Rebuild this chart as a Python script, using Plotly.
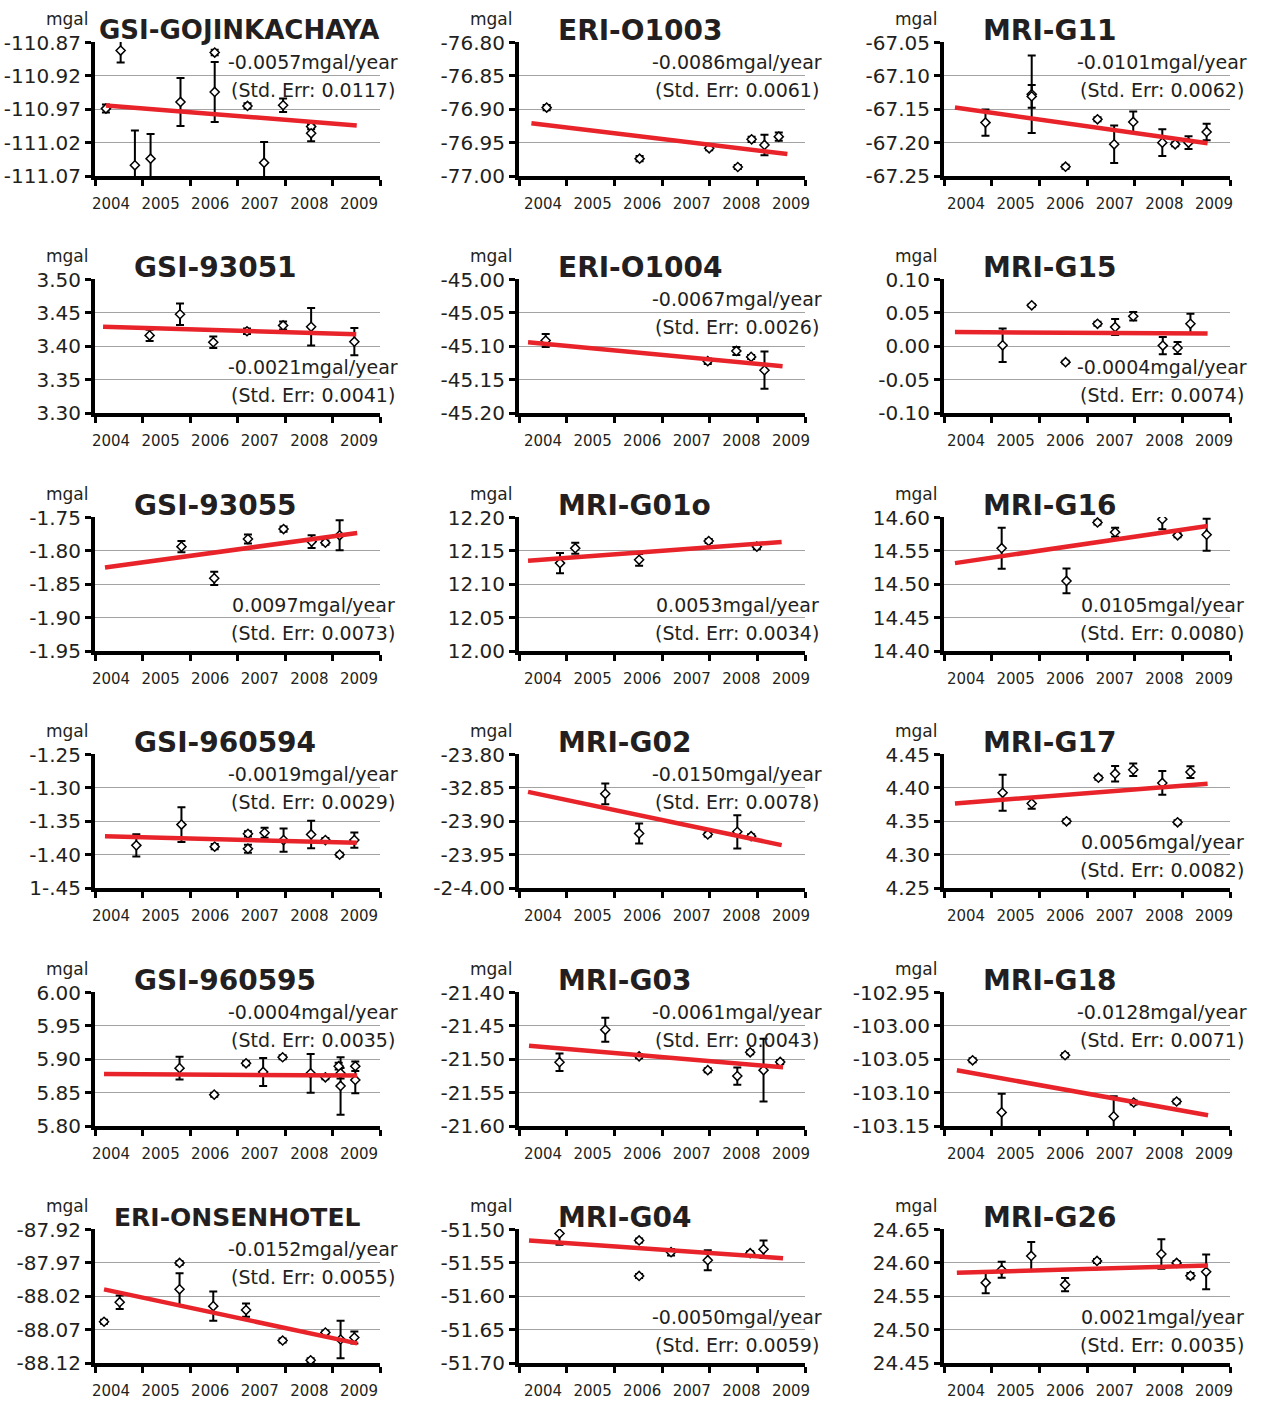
import plotly.graph_objects as go

W, H = 1261, 1401

# ---------------------------------------------------------------- stations
STATIONS = ["GSI-GOJINKACHAYA", "ERI-O1003", "MRI-G11",
            "GSI-93051", "ERI-O1004", "MRI-G15",
            "GSI-93055", "MRI-G01o", "MRI-G16",
            "GSI-960594", "MRI-G02", "MRI-G17",
            "GSI-960595", "MRI-G03", "MRI-G18",
            "ERI-ONSENHOTEL", "MRI-G04", "MRI-G26"]

# fitted gravity trend (mgal/year) and its standard error
SLOPES = [-0.0057, -0.0086, -0.0101, -0.0021, -0.0067, -0.0004,
          0.0097, 0.0053, 0.0105, -0.0019, -0.0150, 0.0056,
          -0.0004, -0.0061, -0.0128, -0.0152, -0.0050, 0.0021]
STD_ERRS = [0.0117, 0.0061, 0.0062, 0.0041, 0.0026, 0.0074,
            0.0073, 0.0034, 0.0080, 0.0029, 0.0078, 0.0082,
            0.0035, 0.0043, 0.0071, 0.0055, 0.0059, 0.0035]

# where the slope text sits: above ("top") or below ("bottom") the data
TEXT_POS = ["top", "top", "top", "bottom", "top", "bottom",
            "bottom", "bottom", "bottom", "top", "top", "bottom",
            "top", "top", "top", "top", "bottom", "bottom"]

# y-axis tick values and labels (labels kept exactly as printed)
YTICK_VALUES = [
    [-110.87, -110.92, -110.97, -111.02, -111.07],
    [-76.80, -76.85, -76.90, -76.95, -77.00],
    [-67.05, -67.10, -67.15, -67.20, -67.25],
    [3.50, 3.45, 3.40, 3.35, 3.30],
    [-45.00, -45.05, -45.10, -45.15, -45.20],
    [0.10, 0.05, 0.00, -0.05, -0.10],
    [-1.75, -1.80, -1.85, -1.90, -1.95],
    [12.20, 12.15, 12.10, 12.05, 12.00],
    [14.60, 14.55, 14.50, 14.45, 14.40],
    [-1.25, -1.30, -1.35, -1.40, -1.45],
    [-23.80, -23.85, -23.90, -23.95, -24.00],
    [4.45, 4.40, 4.35, 4.30, 4.25],
    [6.00, 5.95, 5.90, 5.85, 5.80],
    [-21.40, -21.45, -21.50, -21.55, -21.60],
    [-102.95, -103.00, -103.05, -103.10, -103.15],
    [-87.92, -87.97, -88.02, -88.07, -88.12],
    [-51.50, -51.55, -51.60, -51.65, -51.70],
    [24.65, 24.60, 24.55, 24.50, 24.45],
]
YTICK_LABELS = [
    ["-110.87", "-110.92", "-110.97", "-111.02", "-111.07"],
    ["-76.80", "-76.85", "-76.90", "-76.95", "-77.00"],
    ["-67.05", "-67.10", "-67.15", "-67.20", "-67.25"],
    ["3.50", "3.45", "3.40", "3.35", "3.30"],
    ["-45.00", "-45.05", "-45.10", "-45.15", "-45.20"],
    ["0.10", "0.05", "0.00", "-0.05", "-0.10"],
    ["-1.75", "-1.80", "-1.85", "-1.90", "-1.95"],
    ["12.20", "12.15", "12.10", "12.05", "12.00"],
    ["14.60", "14.55", "14.50", "14.45", "14.40"],
    ["-1.25", "-1.30", "-1.35", "-1.40", "1-.45"],
    ["-23.80", "-32.85", "-23.90", "-23.95", "-2-4.00"],
    ["4.45", "4.40", "4.35", "4.30", "4.25"],
    ["6.00", "5.95", "5.90", "5.85", "5.80"],
    ["-21.40", "-21.45", "-21.50", "-21.55", "-21.60"],
    ["-102.95", "-103.00", "-103.05", "-103.10", "-103.15"],
    ["-87.92", "-87.97", "-88.02", "-88.07", "-88.12"],
    ["-51.50", "-51.55", "-51.60", "-51.65", "-51.70"],
    ["24.65", "24.60", "24.55", "24.50", "24.45"],
]

YEARS = [2004, 2005, 2006, 2007, 2008, 2009]
YEAR_LABELS = ["2004", "2005", "2006", "2007", "2008", "2009"]

# ---------------------------------------------------------------- observations
# t_* : epoch (decimal year), g_* : gravity value (mgal), e_* : 1-sigma error (mgal)
t_gojinkachaya = [2004.23, 2004.54, 2004.84, 2005.17, 2005.80, 2006.52, 2006.52, 2007.21, 2007.56, 2007.96, 2008.55, 2008.55]
g_gojinkachaya = [-110.969, -110.882, -111.054, -111.044, -110.959, -110.885, -110.944, -110.965, -111.050, -110.964, -110.996, -111.006]
e_gojinkachaya = [0.006, 0.018, 0.052, 0.037, 0.036, 0.004, 0.045, 0.004, 0.031, 0.010, 0.004, 0.012]

t_o1003 = [2004.58, 2006.53, 2007.99, 2008.59, 2008.88, 2009.15, 2009.45]
g_o1003 = [-76.8975, -76.974, -76.9585, -76.9865, -76.945, -76.9535, -76.941]
e_o1003 = [0.004, 0.004, 0.003, 0.003, 0.004, 0.0155, 0.006]

t_g11 = [2004.87, 2005.84, 2005.84, 2006.55, 2007.22, 2007.57, 2007.97, 2008.58, 2008.85, 2009.13, 2009.51]
g_g11 = [-67.170, -67.1275, -67.1307, -67.236, -67.165, -67.2025, -67.169, -67.200, -67.2025, -67.200, -67.184]
e_g11 = [0.0196, 0.058, 0.017, 0.003, 0.003, 0.028, 0.0155, 0.020, 0.003, 0.0095, 0.0124]

t_93051 = [2005.15, 2005.79, 2006.49, 2007.20, 2007.96, 2008.55, 2009.46]
g_93051 = [3.4163, 3.448, 3.406, 3.4225, 3.4312, 3.4292, 3.4069]
e_93051 = [0.0085, 0.016, 0.0085, 0.004, 0.006, 0.028, 0.0205]

t_o1004 = [2004.56, 2007.96, 2008.56, 2008.87, 2009.15]
g_o1004 = [-45.0915, -45.1224, -45.107, -45.1159, -45.1358]
e_o1004 = [0.0097, 0.004, 0.006, 0.003, 0.028]

t_g15 = [2005.23, 2005.84, 2006.55, 2007.22, 2007.59, 2007.97, 2008.59, 2008.90, 2009.17]
g_g15 = [0.0015, 0.0614, -0.0238, 0.0337, 0.0287, 0.045, 0.001, -0.0025, 0.0337]
e_g15 = [0.025, 0.002, 0.002, 0.003, 0.012, 0.0064, 0.013, 0.009, 0.015]

t_93055 = [2005.82, 2006.51, 2007.22, 2007.97, 2008.56, 2008.85, 2009.15]
g_93055 = [-1.7936, -1.8411, -1.7822, -1.7673, -1.7861, -1.7876, -1.7767]
e_93055 = [0.0084, 0.0099, 0.0067, 0.004, 0.0097, 0.003, 0.0225]

t_g01o = [2004.86, 2005.18, 2006.52, 2007.98, 2008.99]
g_g01o = [12.1317, 12.154, 12.1366, 12.1648, 12.1564]
e_g01o = [0.0153, 0.0084, 0.0087, 0.003, 0.004]

t_g16 = [2005.21, 2006.57, 2007.22, 2007.59, 2008.58, 2008.90, 2009.51]
g_g16 = [14.554, 14.505, 14.5926, 14.578, 14.5975, 14.5733, 14.5743]
e_g16 = [0.0307, 0.0186, 0.003, 0.0067, 0.015, 0.003, 0.024]

t_960594 = [2004.87, 2005.82, 2006.52, 2007.22, 2007.22, 2007.57, 2007.97, 2008.55, 2008.85, 2009.15, 2009.46]
g_960594 = [-1.3861, -1.355, -1.388, -1.3688, -1.3911, -1.3673, -1.3782, -1.3698, -1.3782, -1.400, -1.3782]
e_960594 = [0.0166, 0.026, 0.004, 0.004, 0.006, 0.0074, 0.0173, 0.0205, 0.003, 0.003, 0.0114]

t_g02 = [2005.81, 2006.52, 2007.96, 2008.58, 2008.87]
g_g02 = [-23.8589, -23.9183, -23.9198, -23.9158, -23.9223]
e_g02 = [0.0156, 0.0149, 0.003, 0.025, 0.003]

t_g17 = [2005.23, 2005.84, 2006.57, 2007.24, 2007.59, 2007.97, 2008.58, 2008.90, 2009.17]
g_g17 = [4.3926, 4.3767, 4.350, 4.4153, 4.4213, 4.4272, 4.4074, 4.3485, 4.4237]
e_g17 = [0.027, 0.008, 0.003, 0.003, 0.0116, 0.0094, 0.0178, 0.003, 0.0087]

t_960595 = [2005.78, 2006.51, 2007.18, 2007.54, 2007.95, 2008.54, 2008.85, 2009.13, 2009.17, 2009.17, 2009.48, 2009.48]
g_960595 = [5.8867, 5.847, 5.894, 5.881, 5.903, 5.879, 5.873, 5.8896, 5.879, 5.860, 5.8896, 5.869]
e_960595 = [0.017, 0.003, 0.003, 0.021, 0.003, 0.029, 0.003, 0.005, 0.008, 0.043, 0.007, 0.020]

t_g03 = [2004.85, 2005.81, 2006.52, 2007.96, 2008.58, 2008.85, 2009.13, 2009.48]
g_g03 = [-21.5044, -21.4559, -21.4956, -21.5163, -21.5252, -21.4896, -21.5163, -21.504]
e_g03 = [0.013, 0.018, 0.003, 0.003, 0.013, 0.003, 0.047, 0.003]

t_g18 = [2004.60, 2005.21, 2006.54, 2007.56, 2007.98, 2008.88]
g_g18 = [-103.0515, -103.1296, -103.044, -103.1356, -103.1148, -103.1133]
e_g18 = [0.003, 0.028, 0.003, 0.030, 0.003, 0.003]

t_onsenhotel = [2004.19, 2004.52, 2005.78, 2005.78, 2006.49, 2007.18, 2007.95, 2008.54, 2008.85, 2009.17, 2009.46]
g_onsenhotel = [-88.0582, -88.0289, -87.970, -88.0096, -88.0348, -88.0407, -88.0863, -88.1159, -88.0744, -88.0848, -88.0818]
e_onsenhotel = [0.003, 0.010, 0.003, 0.024, 0.022, 0.010, 0.003, 0.003, 0.003, 0.028, 0.009]

t_g04 = [2004.85, 2006.52, 2006.52, 2007.19, 2007.96, 2008.85, 2009.13]
g_g04 = [-51.5059, -51.5163, -51.5696, -51.534, -51.5459, -51.5355, -51.5296]
e_g04 = [0.017, 0.003, 0.003, 0.005, 0.015, 0.003, 0.013]

t_g26 = [2004.875, 2005.21, 2005.83, 2006.54, 2007.21, 2008.56, 2008.88, 2009.17, 2009.50]
g_g26 = [24.5704, 24.5896, 24.6104, 24.5674, 24.603, 24.6133, 24.600, 24.5807, 24.5867]
e_g26 = [0.016, 0.012, 0.021, 0.010, 0.003, 0.022, 0.003, 0.004, 0.026]

TIMES = [t_gojinkachaya, t_o1003, t_g11, t_93051, t_o1004, t_g15, t_93055, t_g01o, t_g16,
         t_960594, t_g02, t_g17, t_960595, t_g03, t_g18, t_onsenhotel, t_g04, t_g26]
GRAVITY = [g_gojinkachaya, g_o1003, g_g11, g_93051, g_o1004, g_g15, g_93055, g_g01o, g_g16,
           g_960594, g_g02, g_g17, g_960595, g_g03, g_g18, g_onsenhotel, g_g04, g_g26]
ERRORS = [e_gojinkachaya, e_o1003, e_g11, e_93051, e_o1004, e_g15, e_93055, e_g01o, e_g16,
          e_960594, e_g02, e_g17, e_960595, e_g03, e_g18, e_onsenhotel, e_g04, e_g26]

# regression line: time span and fitted value at its start
TREND_T0 = [2004.23, 2004.26, 2004.23, 2004.17, 2004.19, 2004.23, 2004.21, 2004.19, 2004.23,
            2004.21, 2004.19, 2004.23, 2004.19, 2004.21, 2004.27, 2004.19, 2004.21, 2004.27]
TREND_T1 = [2009.51, 2009.63, 2009.53, 2009.50, 2009.53, 2009.53, 2009.52, 2009.51, 2009.53,
            2009.51, 2009.51, 2009.53, 2009.52, 2009.54, 2009.54, 2009.52, 2009.54, 2009.54]
TREND_G0 = [-110.9643, -76.921, -67.1475, 3.4292, -45.094, 0.0213, -1.8248, 12.1351, 14.5317,
            -1.3723, -23.8559, 4.3767, 5.8778, -21.4796, -103.0665, -88.0096, -51.5163, 24.5852]

# ---------------------------------------------------------------- layout geometry (px)
COL_LEFT = [93, 517, 942]
COL_RIGHT = [380, 805, 1230]
ROW_TOP = [42, 279, 517, 754, 992, 1229]
PLOT_H = 134
# year labels: offset of the first label from the value axis and label pitch
LABEL_OFFSET = [16, 24, 22]
LABEL_PITCH = 49.6

TEXT_COLOR = "#231f20"
FONT = "DejaVu Sans"


def fx(px):
    return px / W


def fy(px):
    return 1 - px / H


fig = go.Figure()
annotations = []
layout = {}

for i, name in enumerate(STATIONS):
    r, c = divmod(i, 3)
    k = "" if i == 0 else str(i + 1)
    xa, ya = "x" + k, "y" + k
    left, right = COL_LEFT[c], COL_RIGHT[c]
    top = ROW_TOP[r]
    bottom = top + PLOT_H

    # observations with error bars
    fig.add_trace(go.Scatter(
        x=TIMES[i], y=GRAVITY[i], xaxis=xa, yaxis=ya, mode="markers",
        marker=dict(symbol="diamond", size=7, color="white",
                    line=dict(color="black", width=1.5)),
        error_y=dict(type="data", array=ERRORS[i], visible=True,
                     color="black", thickness=2, width=4),
        showlegend=False, hoverinfo="x+y",
    ))

    # linear trend drawn from the stated slope
    t0, t1 = TREND_T0[i], TREND_T1[i]
    g0 = TREND_G0[i]
    g1 = g0 + SLOPES[i] * (t1 - t0)
    fig.add_trace(go.Scatter(
        x=[t0, t1], y=[g0, g1], xaxis=xa, yaxis=ya, mode="lines",
        line=dict(color="#e8232a", width=4.5), showlegend=False, hoverinfo="skip",
    ))

    # year label positions along the time axis
    px_per_year = (right - left - 2) / 6.0
    label_vals = [2004 + (LABEL_OFFSET[c] + n * LABEL_PITCH) / px_per_year
                  for n in range(len(YEARS))]

    yv = YTICK_VALUES[i]
    span = max(yv) - min(yv)
    layout["xaxis" + k] = dict(
        domain=[fx(left + 2), fx(right)], anchor=ya,
        range=[2004, 2010],
        tickmode="array", tickvals=label_vals, ticktext=YEAR_LABELS,
        ticks="outside", ticklen=11, tickcolor="rgba(0,0,0,0)",
        tickfont=dict(family=FONT, size=15, color=TEXT_COLOR),
        minor=dict(tickmode="array", tickvals=YEARS + [2010], ticks="outside",
                   ticklen=6, tickwidth=3, tickcolor="black", showgrid=False),
        showgrid=False, zeroline=False,
        showline=True, linewidth=4, linecolor="black",
        fixedrange=True,
    )
    layout["yaxis" + k] = dict(
        domain=[fy(bottom), fy(top)], anchor=xa,
        range=[min(yv), max(yv) + span * 0.004],
        tickmode="array", tickvals=yv, ticktext=YTICK_LABELS[i],
        ticks="outside", ticklen=6, tickwidth=3, tickcolor="black",
        tickfont=dict(family=FONT, size=20, color=TEXT_COLOR),
        showgrid=True, gridcolor="#a3a3a3", gridwidth=1.3,
        zeroline=False, showline=True, linewidth=4, linecolor="black",
        fixedrange=True,
    )

    # unit label above the value axis
    annotations.append(dict(
        x=fx(left - 26), y=fy(top - 23), xref="paper", yref="paper",
        text="mgal", showarrow=False, xanchor="center", yanchor="middle",
        font=dict(family=FONT, size=17, color=TEXT_COLOR),
    ))

    # station name
    if name == "GSI-GOJINKACHAYA":
        tx, tsize = left + 4, 26
    elif name == "ERI-ONSENHOTEL":
        tx, tsize = left + 19, 25
    else:
        tx, tsize = left + 39, 28
    annotations.append(dict(
        x=fx(tx), y=fy(top - 12), xref="paper", yref="paper",
        text=name, showarrow=False, xanchor="left", yanchor="middle",
        font=dict(family=FONT, size=tsize, color=TEXT_COLOR, weight="bold"),
    ))

    # trend statement
    if TEXT_POS[i] == "top":
        y1, y2 = top + 20, top + 48
    else:
        y1, y2 = top + 88, top + 116
    for yy, txt in ((y1, f"{SLOPES[i]:.4f}mgal/year"),
                    (y2, f"(Std. Err: {STD_ERRS[i]:.4f})")):
        annotations.append(dict(
            x=fx(left + 220), y=fy(yy), xref="paper", yref="paper",
            text=txt, showarrow=False, xanchor="center", yanchor="middle",
            font=dict(family=FONT, size=19, color=TEXT_COLOR),
        ))

fig.update_layout(
    width=W, height=H, autosize=False,
    margin=dict(l=0, r=0, t=0, b=0),
    paper_bgcolor="white", plot_bgcolor="white",
    template="none",
    annotations=annotations,
    **layout,
)

fig.write_html("out.html")
